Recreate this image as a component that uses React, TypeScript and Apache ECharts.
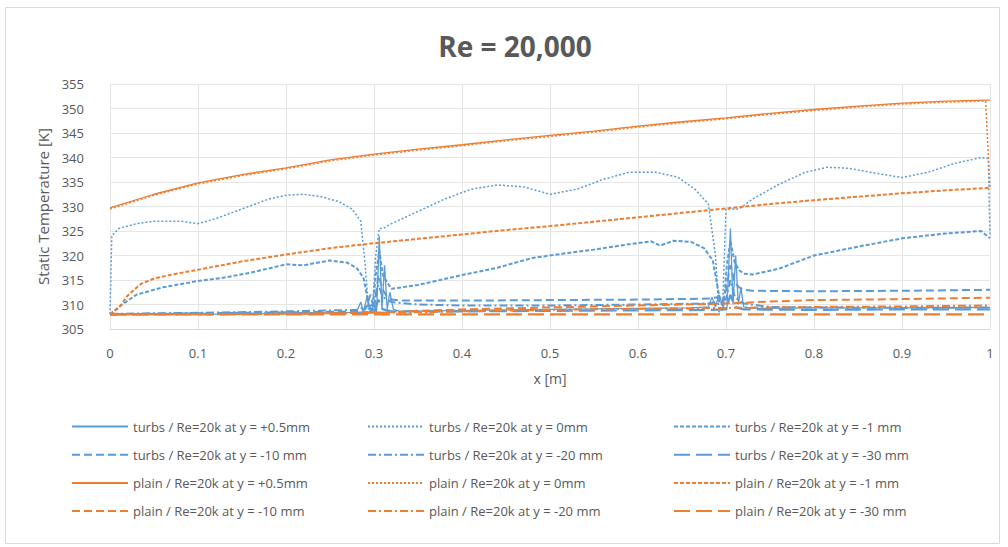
import React, { useEffect, useRef } from "react";
import * as echarts from "echarts";

const BLUE = "#5B9BD5";
const ORANGE = "#ED7D31";

// ---------- data (x [m], static temperature [K]) ----------
const turbsP05X = [0, 0.05, 0.1, 0.15, 0.2, 0.25, 0.28, 0.285, 0.288, 0.292, 0.296, 0.3, 0.303, 0.306, 0.309, 0.312, 0.315, 0.318, 0.322, 0.33, 0.4, 0.5, 0.6, 0.66, 0.68, 0.684, 0.688, 0.692, 0.697, 0.701, 0.705, 0.708, 0.711, 0.714, 0.717, 0.72, 0.73, 0.8, 0.9, 1];
const turbsP05Y = [308, 308, 308, 308.1, 308.2, 308.3, 308.4, 310.5, 308.5, 311.5, 308.5, 309, 308.5, 324, 309, 318, 309, 312.5, 309, 308.6, 308.8, 309, 309.2, 309.3, 309.5, 311.5, 309.5, 312, 309.5, 309, 325.5, 310, 320, 310, 313.5, 309.5, 309.2, 309.3, 309.3, 309.4];

const turbs0X = [0, 0.002, 0.01, 0.03, 0.05, 0.08, 0.1, 0.12, 0.15, 0.18, 0.2, 0.22, 0.24, 0.26, 0.275, 0.285, 0.29, 0.294, 0.298, 0.302, 0.306, 0.31, 0.32, 0.35, 0.38, 0.41, 0.44, 0.47, 0.5, 0.53, 0.56, 0.59, 0.62, 0.645, 0.665, 0.68, 0.688, 0.692, 0.696, 0.7, 0.706, 0.715, 0.73, 0.76, 0.79, 0.815, 0.84, 0.87, 0.9, 0.93, 0.96, 0.99, 0.998, 1];
const turbs0Y = [308, 324, 325.5, 326.5, 327, 327, 326.5, 327.5, 329.5, 331.5, 332.3, 332.5, 332, 331, 329.5, 327, 318, 308.5, 308.5, 320, 325.5, 325.5, 326.5, 329, 331.5, 333.5, 334.4, 334, 332.5, 333.5, 335.5, 337, 337, 336, 333.5, 330.5, 320, 308.5, 309, 329.5, 329.5, 329.5, 331.5, 334.5, 337, 338, 337.8, 336.8, 335.9, 337, 338.8, 340, 339.8, 324];

const turbsM1X = [0, 0.01, 0.03, 0.06, 0.1, 0.13, 0.16, 0.2, 0.22, 0.25, 0.27, 0.28, 0.288, 0.294, 0.298, 0.302, 0.306, 0.31, 0.315, 0.32, 0.35, 0.4, 0.44, 0.48, 0.52, 0.55, 0.59, 0.615, 0.625, 0.64, 0.66, 0.675, 0.685, 0.692, 0.697, 0.701, 0.705, 0.71, 0.715, 0.72, 0.73, 0.76, 0.8, 0.85, 0.9, 0.95, 0.99, 1];
const turbsM1Y = [308, 309.5, 312, 313.5, 314.8, 315.5, 316.5, 318.2, 318, 319, 318.5, 317.5, 315.5, 310, 308.5, 316, 321, 316, 314.5, 313.2, 314, 316, 317.5, 319.5, 320.5, 321.2, 322.3, 322.9, 322, 323, 322.8, 321.5, 319, 312, 309, 318, 323, 318.5, 317, 316.3, 316.1, 317.3, 320, 321.8, 323.5, 324.5, 325, 323.5];

const turbsM10X = [0, 0.1, 0.2, 0.28, 0.29, 0.296, 0.3, 0.305, 0.31, 0.315, 0.32, 0.33, 0.4, 0.5, 0.6, 0.68, 0.69, 0.695, 0.7, 0.705, 0.71, 0.715, 0.72, 0.73, 0.8, 0.9, 1];
const turbsM10Y = [308, 308.2, 308.4, 308.6, 309, 312, 309, 316, 313, 311.5, 311, 310.8, 310.8, 310.9, 311, 311.2, 311.5, 310, 313, 318, 314.5, 313.5, 313, 312.8, 312.7, 312.8, 313];

const turbsM20X = [0, 0.1, 0.2, 0.28, 0.29, 0.3, 0.305, 0.31, 0.32, 0.35, 0.4, 0.5, 0.6, 0.68, 0.69, 0.7, 0.705, 0.71, 0.72, 0.75, 0.8, 0.9, 1];
const turbsM20Y = [308.1, 308.3, 308.6, 308.9, 309.5, 310, 314, 311.5, 310.5, 310, 309.8, 309.8, 310, 310.2, 310.5, 311, 315, 311.5, 310.2, 309.5, 309.4, 309.3, 309.4];

const turbsM30X = [0, 0.1, 0.2, 0.28, 0.3, 0.305, 0.31, 0.32, 0.4, 0.5, 0.6, 0.68, 0.7, 0.705, 0.71, 0.72, 0.8, 0.9, 1];
const turbsM30Y = [308, 308.1, 308.2, 308.3, 308.5, 311, 309, 308.6, 308.6, 308.7, 308.8, 308.9, 309, 312, 309.5, 309, 308.9, 309, 309];

const plainX = [0, 0.05, 0.1, 0.15, 0.2, 0.25, 0.3, 0.35, 0.4, 0.45, 0.5, 0.55, 0.6, 0.65, 0.7, 0.75, 0.8, 0.85, 0.9, 0.95, 0.995, 1];
const plainP05Y = [329.7, 332.5, 334.8, 336.5, 337.9, 339.5, 340.7, 341.7, 342.6, 343.6, 344.5, 345.4, 346.4, 347.3, 348.1, 349, 349.8, 350.5, 351.1, 351.5, 351.7, 351.7];
const plain0Y = [329.5, 332.3, 334.6, 336.3, 337.7, 339.3, 340.5, 341.5, 342.4, 343.4, 344.3, 345.2, 346.2, 347.1, 347.9, 348.8, 349.6, 350.3, 350.9, 351.3, 351.5, 333.8];

const plainM1X = [0, 0.01, 0.02, 0.035, 0.05, 0.07, 0.1, 0.15, 0.2, 0.25, 0.3, 0.35, 0.4, 0.45, 0.5, 0.55, 0.6, 0.65, 0.7, 0.75, 0.8, 0.85, 0.9, 0.95, 1];
const plainM1Y = [308, 309.3, 311.8, 314.2, 315.3, 316.1, 317.1, 318.8, 320.2, 321.5, 322.5, 323.4, 324.3, 325.2, 326, 326.9, 327.8, 328.7, 329.6, 330.5, 331.3, 332, 332.7, 333.3, 333.8];

const plainM10X = [0, 0.1, 0.2, 0.3, 0.35, 0.4, 0.5, 0.6, 0.7, 0.75, 0.8, 0.9, 1];
const plainM10Y = [308, 308, 308.1, 308.3, 308.7, 309, 309.4, 309.8, 310.2, 310.6, 310.9, 311.1, 311.4];

const plainM20X = [0, 0.1, 0.2, 0.3, 0.4, 0.5, 0.6, 0.7, 0.8, 0.9, 1];
const plainM20Y = [308, 308, 308.1, 308.3, 308.6, 308.9, 309.1, 309.3, 309.5, 309.6, 309.8];

const plainM30X = [0, 0.2, 0.4, 0.6, 0.8, 1];
const plainM30Y = [308, 308, 308, 308, 308, 308];

const seriesNames = [
  "turbs / Re=20k at y = +0.5mm",
  "turbs / Re=20k at y = 0mm",
  "turbs / Re=20k at y = -1 mm",
  "turbs / Re=20k at y = -10 mm",
  "turbs / Re=20k at y = -20 mm",
  "turbs / Re=20k at y = -30 mm",
  "plain / Re=20k at y = +0.5mm",
  "plain / Re=20k at y = 0mm",
  "plain / Re=20k at y = -1 mm",
  "plain / Re=20k at y = -10 mm",
  "plain / Re=20k at y = -20 mm",
  "plain / Re=20k at y = -30 mm",
];

const xTicks = [0, 0.1, 0.2, 0.3, 0.4, 0.5, 0.6, 0.7, 0.8, 0.9, 1];
const yTicks = [305, 310, 315, 320, 325, 330, 335, 340, 345, 350, 355];

const pair = (xs: number[], ys: number[]) => xs.map((x, i) => [x, ys[i]]);

const seriesData = [
  pair(turbsP05X, turbsP05Y),
  pair(turbs0X, turbs0Y),
  pair(turbsM1X, turbsM1Y),
  pair(turbsM10X, turbsM10Y),
  pair(turbsM20X, turbsM20Y),
  pair(turbsM30X, turbsM30Y),
  pair(plainX, plainP05Y),
  pair(plainX, plain0Y),
  pair(plainM1X, plainM1Y),
  pair(plainM10X, plainM10Y),
  pair(plainM20X, plainM20Y),
  pair(plainM30X, plainM30Y),
];

const dashStyles: any[] = ["solid", [2, 2], [4, 2], [8, 4], [8, 3, 2, 3], [16, 6]];
const widths = [1.3, 1.5, 2, 2, 2, 2.2];

const FONT = "'Open Sans', 'Noto Sans', sans-serif";
const GREY = "#595959";

export default function App() {
  const ref = useRef<HTMLDivElement>(null);
  useEffect(() => {
    document.body.style.margin = "0";
    if (!ref.current) return;
    const chart = echarts.init(ref.current, null, { renderer: "svg" });
    const series = seriesNames.map((name, i) => ({
      name,
      type: "line",
      data: seriesData[i],
      symbol: "none",
      showSymbol: false,
      lineStyle: {
        color: i < 6 ? BLUE : ORANGE,
        width: widths[i % 6],
        type: dashStyles[i % 6],
      },
      itemStyle: { color: i < 6 ? BLUE : ORANGE },
      z: 2 + i,
    }));
    const col = (idx: number[]) => idx.map((k) => seriesNames[k]);
    const legendBase = {
      orient: "vertical",
      top: 415,
      itemWidth: 56,
      itemHeight: 14,
      itemGap: 15.2,
      itemStyle: { color: "rgba(0,0,0,0)", opacity: 0, borderWidth: 0 },
      textStyle: { color: GREY, fontSize: 13, fontFamily: FONT },
      selectedMode: false,
    };
    chart.setOption({
      animation: false,
      backgroundColor: "#ffffff",
      title: {
        text: "Re = 20,000",
        left: 510,
        textAlign: "center",
        top: 27,
        textStyle: { color: GREY, fontSize: 28, fontWeight: "bold", fontFamily: FONT },
      },
      graphic: [
        {
          type: "rect",
          shape: { x: 5.5, y: 7.5, width: 994, height: 536 },
          style: { fill: "none", stroke: "#d9d9d9", lineWidth: 1 },
          silent: true,
        },
      ],
      legend: [
        { ...legendBase, left: 66, data: col([0, 3, 6, 9]) },
        { ...legendBase, left: 362, data: col([1, 4, 7, 10]) },
        { ...legendBase, left: 668, data: col([2, 5, 8, 11]) },
      ],
      grid: { left: 110, right: 18, top: 84, bottom: 218, containLabel: false },
      xAxis: {
        type: "value",
        min: xTicks[0],
        max: xTicks[xTicks.length - 1],
        interval: 0.1,
        name: "x [m]",
        nameLocation: "middle",
        nameGap: 42,
        nameTextStyle: { color: GREY, fontSize: 14, fontFamily: FONT },
        axisLine: { show: true, lineStyle: { color: "#d9d9d9" } },
        axisTick: { show: false },
        axisLabel: { color: GREY, fontSize: 13, fontFamily: FONT, margin: 17 },
        splitLine: { show: true, lineStyle: { color: "#e6e6e6" } },
      },
      yAxis: {
        type: "value",
        min: yTicks[0],
        max: yTicks[yTicks.length - 1],
        interval: 5,
        name: "Static Temperature [K]",
        nameLocation: "middle",
        nameGap: 58,
        nameTextStyle: { color: GREY, fontSize: 15, fontFamily: FONT },
        axisLine: { show: false },
        axisTick: { show: false },
        axisLabel: { color: GREY, fontSize: 13, fontFamily: FONT, margin: 26 },
        splitLine: { show: true, lineStyle: { color: "#e6e6e6" } },
      },
      series,
    });
    return () => chart.dispose();
  }, []);
  return <div ref={ref} style={{ width: 1008, height: 547 }} />;
}
